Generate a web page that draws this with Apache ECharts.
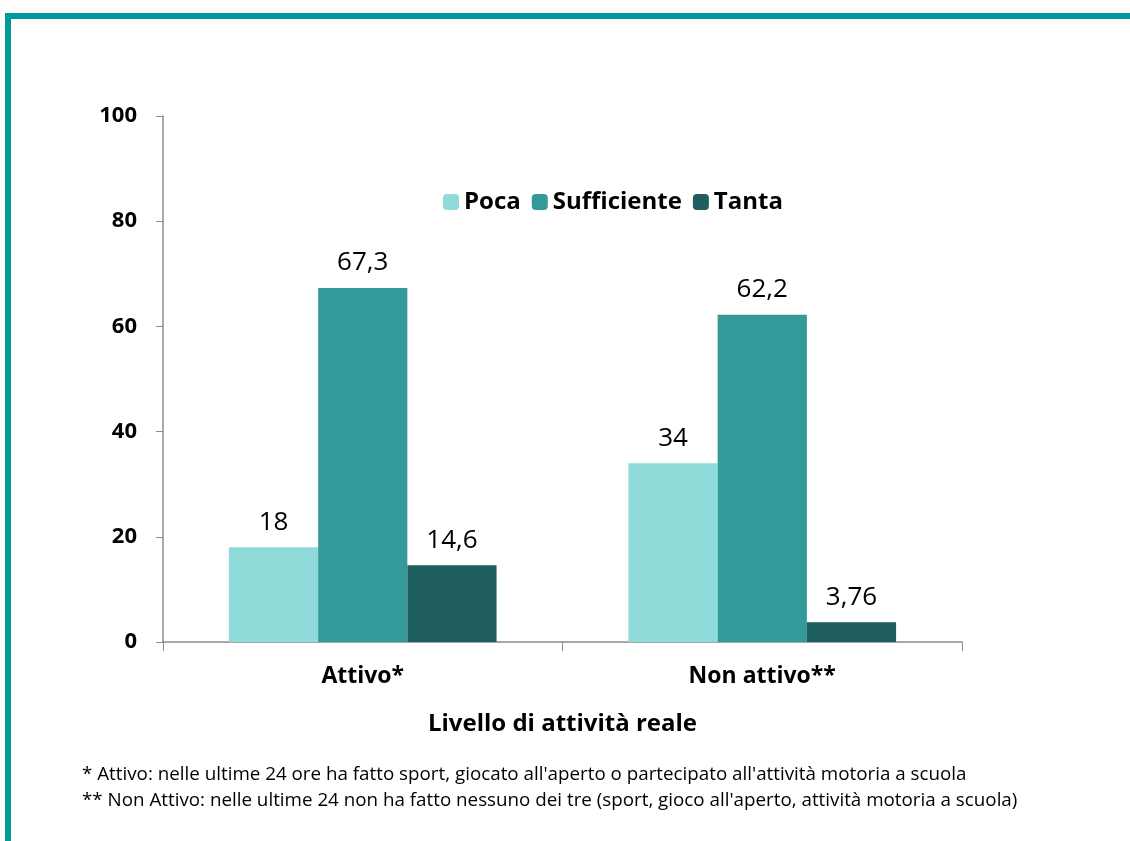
<!DOCTYPE html>
<html>
<head>
<meta charset="utf-8">
<script src="https://cdn.jsdelivr.net/npm/echarts@6/dist/echarts.min.js"></script>
<style>
  html, body { margin: 0; padding: 0; background: #fff; }
  #chart { width: 1130px; height: 841px; }
</style>
</head>
<body>
<div id="chart"></div>
<script>
  // dati
  var categorie = ['Attivo*', 'Non attivo**'];
  var poca = [18, 34];
  var sufficiente = [67.3, 62.2];
  var tanta = [14.6, 3.76];
  var yTicks = [0, 20, 40, 60, 80, 100];
  var note1 = "* Attivo: nelle ultime 24 ore ha fatto sport, giocato all'aperto o partecipato all'attività motoria a scuola";
  var note2 = "** Non Attivo: nelle ultime 24 non ha fatto nessuno dei tre (sport, gioco all'aperto, attività motoria a scuola)";

  var font = '"Open Sans", "Noto Sans", sans-serif';
  var chart = echarts.init(document.getElementById('chart'));

  function serie(name, data, color) {
    return {
      name: name,
      type: 'bar',
      data: data,
      barGap: 0,
      barCategoryGap: '33%',
      itemStyle: { color: color },
      label: {
        show: true,
        position: 'top',
        distance: 12,
        color: '#000',
        fontFamily: font,
        fontSize: 26,
        formatter: function (p) { return String(p.value).replace('.', ','); }
      }
    };
  }

  chart.setOption({
    backgroundColor: '#fff',
    textStyle: { fontFamily: font },
    grid: { left: 163, right: 168, top: 116, bottom: 199 },
    legend: {
      data: ['Poca', 'Sufficiente', 'Tanta'],
      left: 438,
      top: 185,
      itemWidth: 16,
      itemHeight: 16,
      itemGap: 11,
      textStyle: { fontSize: 24, fontWeight: 'bold', color: '#000', fontFamily: font }
    },
    xAxis: {
      type: 'category',
      data: categorie,
      name: 'Livello di attività reale',
      nameLocation: 'middle',
      nameGap: 70,
      nameTextStyle: { fontSize: 24, fontWeight: 'bold', color: '#000', fontFamily: font },
      axisLine: { lineStyle: { color: '#8c8c8c', width: 1.5 } },
      axisTick: { show: true, length: 9, lineStyle: { color: '#8c8c8c' } },
      axisLabel: { fontSize: 23, fontWeight: 'bold', color: '#000', margin: 23, fontFamily: font }
    },
    yAxis: {
      type: 'value',
      min: yTicks[0],
      max: yTicks[yTicks.length - 1],
      interval: 20,
      splitLine: { show: false },
      axisLine: { show: true, lineStyle: { color: '#8c8c8c', width: 1.5 } },
      axisTick: { show: true, length: 7, lineStyle: { color: '#8c8c8c' } },
      axisLabel: { fontSize: 22, fontWeight: 'bold', color: '#000', margin: 26, fontFamily: font }
    },
    series: [
      serie('Poca', poca, '#8fdbd9'),
      serie('Sufficiente', sufficiente, '#339999'),
      serie('Tanta', tanta, '#1f5e5e')
    ],
    graphic: [
      { type: 'rect', shape: { x: 5, y: 13, width: 1125, height: 6 }, style: { fill: '#009999' } },
      { type: 'rect', shape: { x: 5, y: 13, width: 6, height: 828 }, style: { fill: '#009999' } },
      { type: 'text', left: 82, top: 765, style: { text: note1, fontSize: 18.8, fill: '#000', fontFamily: font } },
      { type: 'text', left: 82, top: 791, style: { text: note2, fontSize: 18.8, fill: '#000', fontFamily: font } }
    ]
  });
</script>
</body>
</html>
